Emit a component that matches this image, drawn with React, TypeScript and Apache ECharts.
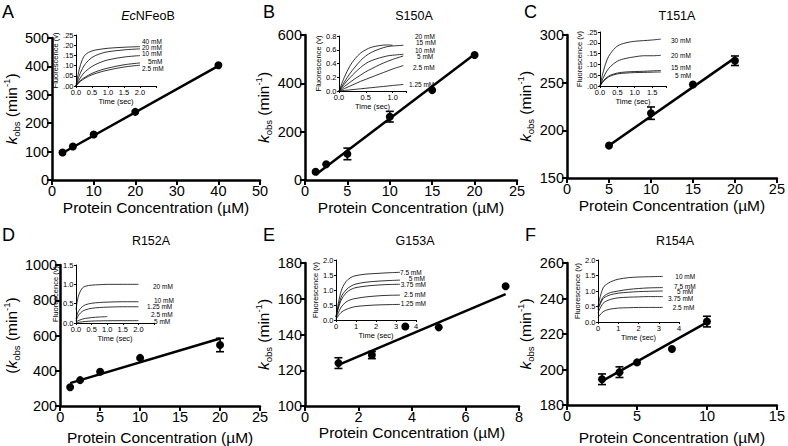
import React, { useEffect, useRef } from "react";
import * as echarts from "echarts";

const FONT = "Liberation Sans, Arial, Helvetica, sans-serif";

// ---------- Main panels data ----------
const concA = [2.5, 5, 10, 20, 40];
const kobsA = [97, 118, 160, 240, 404];
const errA = [0, 0, 0, 0, 0];
const fitXA = [2.5, 40];
const fitYA = [95, 402];

const concB = [1.25, 2.5, 5, 10, 15, 20];
const kobsB = [34, 65, 108, 262, 372, 517];
const errB = [0, 0, 24, 22, 0, 0];
const fitXB = [1.25, 20];
const fitYB = [22, 520];

const concC = [5, 10, 15, 20];
const kobsC = [184, 218, 248, 273];
const errC = [0, 6.5, 0, 5];
const fitXC = [5, 20];
const fitYC = [184, 276];

const concD = [1.25, 2.5, 5, 10, 20];
const kobsD = [306, 347, 394, 473, 546];
const errD = [0, 0, 0, 0, 38];
const fitXD = [1.25, 20];
const fitYD = [330, 583];

const concE = [1.25, 2.5, 3.75, 5, 7.5];
const kobsE = [124, 128.5, 144.5, 144, 167];
const errE = [3, 2, 0, 0, 0];
const fitXE = [1.25, 7.5];
const fitYE = [123, 162.6];

const concF = [2.5, 3.75, 5, 7.5, 10];
const kobsF = [194.5, 198.5, 204, 211.5, 227];
const errF = [3, 3, 0, 0, 3];
const fitXF = [2.5, 10];
const fitYF = [193.5, 226.5];

// ---------- Inset traces ----------
const timeA = [0, 0.1, 0.2, 0.3, 0.5, 0.75, 1.0, 1.5, 2.0];
const insA40 = [0, 0.08, 0.13, 0.155, 0.172, 0.18, 0.185, 0.19, 0.193];
const insA20 = [0, 0.05, 0.085, 0.11, 0.14, 0.158, 0.168, 0.177, 0.182];
const insA10 = [0, 0.03, 0.055, 0.072, 0.096, 0.115, 0.128, 0.142, 0.149];
const insA5 = [0, 0.02, 0.035, 0.045, 0.062, 0.077, 0.088, 0.104, 0.113];
const insA25 = [0, 0.018, 0.03, 0.04, 0.055, 0.068, 0.078, 0.093, 0.102];
const labelsA = ["40 mM", "20 mM", "10 mM", "5mM", "2.5 mM"];

const timeB = [0, 0.1, 0.2, 0.3, 0.4, 0.5, 0.6, 0.75, 0.9, 1.0, 1.2];
const insB20 = [0, 0.2, 0.36, 0.47, 0.55, 0.6, 0.635, 0.66, 0.67, 0.665, null];
const insB15 = [0, 0.13, 0.25, 0.35, 0.44, 0.51, 0.56, 0.61, 0.645, 0.655, 0.665];
const insB10 = [0, 0.1, 0.19, 0.27, 0.34, 0.4, 0.44, 0.48, 0.51, 0.52, 0.535];
const insB5 = [0, 0.065, 0.125, 0.18, 0.23, 0.28, 0.32, 0.38, 0.43, 0.46, 0.51];
const insB25 = [0, 0.035, 0.07, 0.105, 0.14, 0.17, 0.2, 0.245, 0.29, 0.32, 0.37];
const insB125 = [0, 0.008, 0.016, 0.024, 0.032, 0.04, 0.048, 0.06, 0.072, 0.08, 0.095];
const labelsB = ["20 mM", "15 mM", "10 mM", "5 mM", "2.5 mM", "1.25 mM"];

const timeC = [0, 0.1, 0.2, 0.3, 0.5, 0.75, 1.0, 1.25, 1.5, 1.75];
const insC30 = [0, 0.07, 0.12, 0.15, 0.185, 0.2, 0.207, 0.21, 0.213, 0.217];
const insC20 = [0, 0.04, 0.07, 0.09, 0.115, 0.128, 0.135, 0.14, 0.14, 0.142];
const insC15 = [0, 0.025, 0.04, 0.05, 0.06, 0.065, 0.067, 0.068, 0.07, 0.072];
const insC5 = [0, 0.022, 0.036, 0.046, 0.056, 0.06, 0.062, 0.063, 0.064, 0.065];
const labelsC = ["30 mM", "20 mM", "15 mM", "5 mM"];

const timeD = [0, 0.05, 0.1, 0.2, 0.3, 0.5, 0.75, 1.0, 1.5, 2.0];
const insD20 = [0.35, 0.6, 0.75, 0.9, 0.95, 0.98, 0.99, 1.0, 1.0, 1.0];
const insD10 = [0.1, 0.25, 0.33, 0.42, 0.47, 0.51, 0.53, 0.54, 0.55, 0.55];
const insD125 = [0.05, 0.15, 0.22, 0.3, 0.34, 0.38, 0.4, 0.41, 0.42, 0.42];
const insD25 = [0.02, 0.05, 0.07, 0.1, 0.12, 0.14, 0.155, 0.165, null, null];
const insD5 = [0.0, 0.01, 0.02, 0.03, 0.04, 0.05, 0.055, 0.058, 0.06, 0.06];
const labelsD = ["20 mM", "10 mM", "1.25 mM", "2.5 mM", "5 mM"];

const timeE = [0, 0.25, 0.5, 0.75, 1, 1.5, 2, 2.5, 3.2];
const insE75 = [0.1, 0.95, 1.28, 1.42, 1.48, 1.53, 1.55, 1.57, 1.59];
const insE5 = [0.1, 0.75, 1.0, 1.13, 1.2, 1.26, 1.29, 1.31, 1.33];
const insE375 = [0.1, 0.65, 0.9, 1.02, 1.08, 1.13, 1.16, 1.18, 1.19];
const insE25 = [0.05, 0.42, 0.6, 0.68, 0.72, 0.77, 0.8, 0.82, 0.83];
const insE125 = [0.02, 0.25, 0.35, 0.41, 0.45, 0.48, 0.5, 0.51, 0.52];
const labelsE = ["7.5 mM", "5 mM", "3.75 mM", "2.5 mM", "1.25 mM"];

const timeF = [0, 0.25, 0.5, 0.75, 1, 1.5, 2, 2.5, 3.2];
const insF10 = [0.5, 1.1, 1.25, 1.33, 1.38, 1.43, 1.45, 1.46, 1.47];
const insF75 = [0.45, 0.8, 0.92, 0.97, 1.0, 1.05, 1.08, 1.1, 1.11];
const insF5 = [0.4, 0.75, 0.85, 0.9, 0.93, 0.96, 0.98, 0.99, 1.0];
const insF375 = [0.3, 0.6, 0.7, 0.75, 0.78, 0.8, 0.81, 0.82, 0.82];
const insF25 = [0.15, 0.33, 0.4, 0.43, 0.45, 0.46, 0.47, 0.47, 0.47];
const labelsF = ["10 mM", "7.5 mM", "5 mM", "3.75 mM", "2.5 mM"];

// ---------- layout (styles/positions) ----------
const panels = [
  {
    letter: "A", title: "{i|Ec}NFeoB", yName: "{k|k}{s|obs} (min{p|-1})",
    conc: concA, kobs: kobsA, err: errA, fitX: fitXA, fitY: fitYA,
    xMax: 50, xInt: 10, yMin: 0, yMax: 500, yInt: 100, xNameGap: 19,
    grid: { left: 44, top: 38, width: 216, height: 142 },
    letterPos: [2, 12], titlePos: [148, 16],
    inset: {
      grid: { left: 76, top: 35, width: 80, height: 51 },
      xMax: 2.5, xInt: 0.5, xShowMax: 2.0, xFmt: (v: number) => v.toFixed(1),
      yMax: 0.25, yInt: 0.05, yFmt: (v: number) => v.toFixed(2).replace(/^0/, ""),
      time: timeA, traces: [insA40, insA20, insA10, insA5, insA25], labels: labelsA,
      labelPos: [[142, 41], [142, 47], [142, 53], [148, 61.5], [142, 68.5]],
      yNameGap: 16,
    },
  },
  {
    letter: "B", title: "S150A", yName: "{k|k}{s|obs} (min{p|-1})",
    conc: concB, kobs: kobsB, err: errB, fitX: fitXB, fitY: fitYB,
    xMax: 25, xInt: 5, yMin: 0, yMax: 600, yInt: 200, xNameGap: 19,
    grid: { left: 305, top: 35, width: 212, height: 145 },
    letterPos: [263, 12], titlePos: [414, 16],
    inset: {
      grid: { left: 339, top: 36, width: 67, height: 55 },
      xMax: 1.25, xInt: 0.5, xShowMax: 1.0, xFmt: (v: number) => v.toFixed(1),
      yMax: 0.8, yInt: 0.2, yFmt: (v: number) => v.toFixed(1),
      time: timeB, traces: [insB20, insB15, insB10, insB5, insB25, insB125], labels: labelsB,
      labelPos: [[415, 36], [416, 42], [415, 50], [417, 56], [413, 67.5], [409, 84.2]],
      yNameGap: 16,
    },
  },
  {
    letter: "C", title: "T151A", yName: "{k|k}{s|obs} (min{p|-1})",
    conc: concC, kobs: kobsC, err: errC, fitX: fitXC, fitY: fitYC,
    xMax: 25, xInt: 5, yMin: 150, yMax: 300, yInt: 50, xNameGap: 19,
    grid: { left: 567, top: 35, width: 213, height: 143 },
    letterPos: [524, 12], titlePos: [677, 16],
    inset: {
      grid: { left: 600, top: 32, width: 66, height: 54 },
      xMax: 1.9, xInt: 0.5, xShowMax: 1.5, xFmt: (v: number) => v.toFixed(1),
      yMax: 0.25, yInt: 0.05, yFmt: (v: number) => v.toFixed(2).replace(/^0/, ""),
      time: timeC, traces: [insC30, insC20, insC15, insC5], labels: labelsC,
      labelPos: [[671, 40], [671, 55], [671, 67.5], [675, 75]],
      yNameGap: 16,
    },
  },
  {
    letter: "D", title: "R152A", yName: "({k|k}{s|obs} (min{p|-1})",
    conc: concD, kobs: kobsD, err: errD, fitX: fitXD, fitY: fitYD,
    xMax: 25, xInt: 5, yMin: 200, yMax: 1000, yInt: 200, xNameGap: 23,
    grid: { left: 45, top: 265, width: 215, height: 141 },
    letterPos: [2, 235], titlePos: [151, 241],
    inset: {
      grid: { left: 76, top: 265, width: 78, height: 58 },
      xMax: 2.5, xInt: 0.5, xShowMax: 2.0, xFmt: (v: number) => v.toFixed(1),
      yMax: 1.5, yInt: 0.5, yFmt: (v: number) => v.toFixed(1),
      time: timeD, traces: [insD20, insD10, insD125, insD25, insD5], labels: labelsD,
      labelPos: [[153, 286.7], [154, 300], [147, 306.7], [151, 314], [154, 321]],
      yNameGap: 14,
    },
  },
  {
    letter: "E", title: "G153A", yName: "{k|k}{s|obs} (min{p|-1})",
    conc: concE, kobs: kobsE, err: errE, fitX: fitXE, fitY: fitYE,
    xMax: 8, xInt: 2, yMin: 100, yMax: 180, yInt: 20, xNameGap: 18,
    grid: { left: 305, top: 263, width: 214, height: 143 },
    letterPos: [263, 235], titlePos: [415, 241],
    inset: {
      grid: { left: 336, top: 260, width: 80, height: 60 },
      xMax: 4, xInt: 1, xShowMax: 4, xFmt: (v: number) => String(v),
      yMax: 2.0, yInt: 0.5, yFmt: (v: number) => v.toFixed(1),
      time: timeE, traces: [insE75, insE5, insE375, insE25, insE125], labels: labelsE,
      labelPos: [[400, 272.5], [408.7, 278.3], [400.7, 284], [404, 294], [400.7, 303.3]],
      yNameGap: 14,
    },
  },
  {
    letter: "F", title: "R154A", yName: "{k|k}{s|obs} (min{p|-1})",
    conc: concF, kobs: kobsF, err: errF, fitX: fitXF, fitY: fitYF,
    xMax: 15, xInt: 5, yMin: 180, yMax: 260, yInt: 20, xNameGap: 24,
    grid: { left: 567, top: 263, width: 214, height: 142 },
    letterPos: [525, 235], titlePos: [675, 241],
    inset: {
      grid: { left: 598, top: 260, width: 81, height: 62 },
      xMax: 4, xInt: 1, xShowMax: 4, xFmt: (v: number) => String(v),
      yMax: 2.0, yInt: 0.5, yFmt: (v: number) => v.toFixed(1),
      time: timeF, traces: [insF10, insF75, insF5, insF375, insF25], labels: labelsF,
      labelPos: [[675.3, 276.7], [674, 286], [677, 291.8], [668, 298.5], [672.7, 307.5]],
      yNameGap: 14,
    },
  },
];

function buildOption() {
  const grids: any[] = [];
  const xAxes: any[] = [];
  const yAxes: any[] = [];
  const series: any[] = [];
  const graphics: any[] = [];

  panels.forEach((p) => {
    // main grid
    const gi = grids.length;
    grids.push({ ...p.grid });
    xAxes.push({
      type: "value", gridIndex: gi, min: 0, max: p.xMax, interval: p.xInt,
      axisLine: { show: true, onZero: false, lineStyle: { color: "#000", width: 2.5 } },
      axisTick: { show: true, length: 5, lineStyle: { color: "#000", width: 2 } },
      axisLabel: { color: "#000", fontSize: 14.5, margin: 3, fontFamily: FONT, formatter: (v: number) => String(v) },
      splitLine: { show: false },
      name: "Protein Concentration (µM)", nameLocation: "middle", nameGap: p.xNameGap,
      nameTextStyle: { color: "#000", fontSize: 15.5, fontFamily: FONT },
    });
    yAxes.push({
      type: "value", gridIndex: gi, min: p.yMin, max: p.yMax, interval: p.yInt,
      axisLine: { show: true, onZero: false, lineStyle: { color: "#000", width: 2.5 } },
      axisTick: { show: true, length: 5, lineStyle: { color: "#000", width: 2 } },
      axisLabel: { color: "#000", fontSize: 14.5, margin: 3, fontFamily: FONT, formatter: (v: number) => String(v) },
      splitLine: { show: false },
      name: p.yName, nameLocation: "middle", nameGap: 28, nameRotate: 90,
      nameTextStyle: {
        color: "#000", fontSize: 15.5, fontFamily: FONT, lineHeight: 20,
        rich: {
          k: { fontStyle: "italic", fontSize: 15.5, fontFamily: FONT, color: "#000", lineHeight: 20 },
          s: { fontSize: 9.5, fontFamily: FONT, color: "#000", verticalAlign: "bottom", lineHeight: 20 },
          p: { fontSize: 9.5, fontFamily: FONT, color: "#000", verticalAlign: "top", lineHeight: 20 },
        },
      },
    });
    series.push({
      type: "line", xAxisIndex: gi, yAxisIndex: gi, showSymbol: false, silent: true,
      data: p.fitX.map((x, i) => [x, p.fitY[i]]),
      lineStyle: { color: "#000", width: 2.5 }, z: 3,
    });
    series.push({
      type: "scatter", xAxisIndex: gi, yAxisIndex: gi, symbolSize: 8,
      itemStyle: { color: "#000", opacity: 1 }, data: p.conc.map((x, i) => [x, p.kobs[i]]), z: 4,
    });
    const errData = p.conc.map((x, i) => [x, p.kobs[i], p.err[i]]).filter((d) => d[2] > 0);
    if (errData.length) {
      series.push({
        type: "custom", xAxisIndex: gi, yAxisIndex: gi, coordinateSystem: "cartesian2d", z: 5,
        data: errData,
        renderItem: (_params: any, api: any) => {
          const x = api.value(0), y = api.value(1), e = api.value(2);
          const top = api.coord([x, y + e]);
          const bot = api.coord([x, y - e]);
          const w = 4;
          const st = { stroke: "#000", lineWidth: 1.6 };
          return {
            type: "group",
            children: [
              { type: "line", shape: { x1: top[0], y1: top[1], x2: bot[0], y2: bot[1] }, style: st },
              { type: "line", shape: { x1: top[0] - w, y1: top[1], x2: top[0] + w, y2: top[1] }, style: st },
              { type: "line", shape: { x1: bot[0] - w, y1: bot[1], x2: bot[0] + w, y2: bot[1] }, style: st },
            ],
          };
        },
      });
    }

    // inset grid
    const ins = p.inset;
    const ii = grids.length;
    grids.push({ ...ins.grid });
    xAxes.push({
      type: "value", gridIndex: ii, min: 0, max: ins.xMax, interval: ins.xInt,
      axisLine: { show: true, onZero: false, lineStyle: { color: "#000", width: 1 } },
      axisTick: { show: true, length: 2, lineStyle: { color: "#000", width: 1 } },
      axisLabel: {
        color: "#000", fontSize: 7.5, margin: 2.5, fontFamily: FONT,
        formatter: (v: number) => (v > ins.xShowMax + 1e-9 ? "" : ins.xFmt(v)),
      },
      splitLine: { show: false },
      name: "Time (sec)", nameLocation: "middle", nameGap: 10,
      nameTextStyle: { color: "#000", fontSize: 7.5, fontFamily: FONT },
    });
    yAxes.push({
      type: "value", gridIndex: ii, min: 0, max: ins.yMax, interval: ins.yInt,
      axisLine: { show: true, onZero: false, lineStyle: { color: "#000", width: 1 } },
      axisTick: { show: true, length: 2, lineStyle: { color: "#000", width: 1 } },
      axisLabel: { color: "#000", fontSize: 7.5, margin: 2.5, fontFamily: FONT, formatter: ins.yFmt },
      splitLine: { show: false },
      name: "Fluorescence (v)", nameLocation: "middle", nameGap: ins.yNameGap + 1, nameRotate: 90,
      nameTextStyle: { color: "#000", fontSize: 7.5, fontFamily: FONT },
    });
    ins.traces.forEach((tr: (number | null)[]) => {
      series.push({
        type: "line", xAxisIndex: ii, yAxisIndex: ii, showSymbol: false, silent: true,
        smooth: 0.35,
        data: ins.time.map((t: number, k: number) => [t, tr[k]]).filter((d: any) => d[1] !== null),
        lineStyle: { color: "#000", width: 0.8 }, z: 2,
      });
    });
    ins.labels.forEach((lab: string, k: number) => {
      graphics.push({
        type: "text", x: ins.labelPos[k][0], y: ins.labelPos[k][1],
        style: { text: lab, fill: "#000", font: `6.5px ${FONT}`, textAlign: "left", textVerticalAlign: "middle" },
      });
    });

    // panel letter & title
    graphics.push({
      type: "text", x: p.letterPos[0], y: p.letterPos[1],
      style: { text: p.letter, fill: "#000", font: `18px ${FONT}`, textAlign: "left", textVerticalAlign: "middle" },
    });
    graphics.push({
      type: "text", x: p.titlePos[0], y: p.titlePos[1],
      style: {
        text: p.title, fill: "#000", fontSize: 12.5, fontFamily: FONT, align: "center", verticalAlign: "middle",
        rich: { i: { fontStyle: "italic", fontSize: 12.5, fontFamily: FONT, fill: "#000" } },
      },
    });
  });

  return {
    animation: false,
    backgroundColor: "#fff",
    textStyle: { fontFamily: FONT },
    grid: grids,
    xAxis: xAxes,
    yAxis: yAxes,
    series,
    graphic: graphics,
  };
}

export default function App() {
  const ref = useRef<HTMLDivElement>(null);
  useEffect(() => {
    if (!ref.current) return;
    const chart = echarts.init(ref.current, undefined, { renderer: "svg" });
    chart.setOption(buildOption() as any);
    return () => chart.dispose();
  }, []);
  return (
    <div
      ref={ref}
      style={{ position: "fixed", left: 0, top: 0, width: 788, height: 446, background: "#fff" }}
    />
  );
}
